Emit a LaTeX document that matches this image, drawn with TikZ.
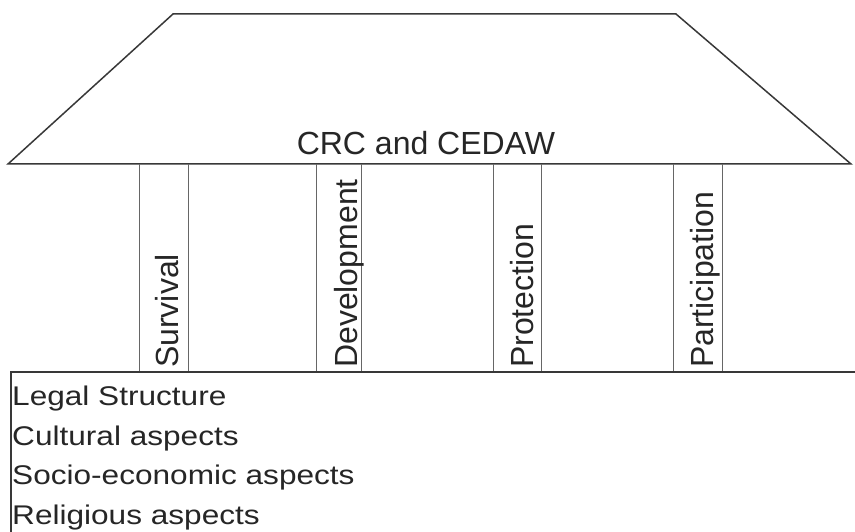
\documentclass[tikz,border=0pt]{standalone}
\usepackage{fontspec}
\setmainfont{Liberation Sans}
\newfontfamily\widefont[FakeStretch=1.17]{Liberation Sans}
\usetikzlibrary{positioning}
\definecolor{Ink}{HTML}{262626}
\definecolor{Rule}{HTML}{383838}
\definecolor{Post}{HTML}{666666}

\begin{document}
\begin{tikzpicture}[x=1pt,y=-1pt,
    roofline/.style={draw=Rule,line width=1.5pt,line join=miter},
    postline/.style={draw=Post,line width=0.9pt},
    pillarlabel/.style={rotate=90,anchor=base west,inner sep=0pt,text=Ink,font=\fontsize{32}{36}\selectfont},
    baselabel/.style={anchor=base west,inner sep=0pt,text=Ink,font=\widefont\fontsize{27}{31}\selectfont}]
    \useasboundingbox[fill=white] (0,0) rectangle (855,532);

    % roof
    \draw[roofline] (8,164) -- (173,14) -- (676,14) -- (851,164) -- cycle;
    \node[anchor=base,inner sep=0pt,text=Ink,font=\fontsize{32}{36}\selectfont] (roof) at (426,155) {CRC and CEDAW};

    % pillars
    \draw[postline] (139,164) -- (139,372) (188,164) -- (188,372);
    \draw[postline] (316,164) -- (316,372) (361,164) -- (361,372);
    \draw[postline] (493,164) -- (493,372) (541,164) -- (541,372);
    \draw[postline] (673,164) -- (673,372) (722,164) -- (722,372);
    \node[pillarlabel] (survival) at (178,368) {Survival};
    \node[pillarlabel] (development) at (357,368) {Development};
    \node[pillarlabel] (protection) at (533,368) {Protection};
    \node[pillarlabel] (participation) at (713,368) {Participation};

    % foundation
    \draw[roofline,line width=1.1pt] (855,372) -- (11,372) -- (11,532);
    \node[baselabel] (legal) at (12,405) {Legal Structure};
    \node[baselabel] (cultural) at (12,445) {Cultural aspects};
    \node[baselabel] (socio) at (12,484) {Socio-economic aspects};
    \node[baselabel] (religious) at (12,524) {Religious aspects};
  \end{tikzpicture}
\end{document}
